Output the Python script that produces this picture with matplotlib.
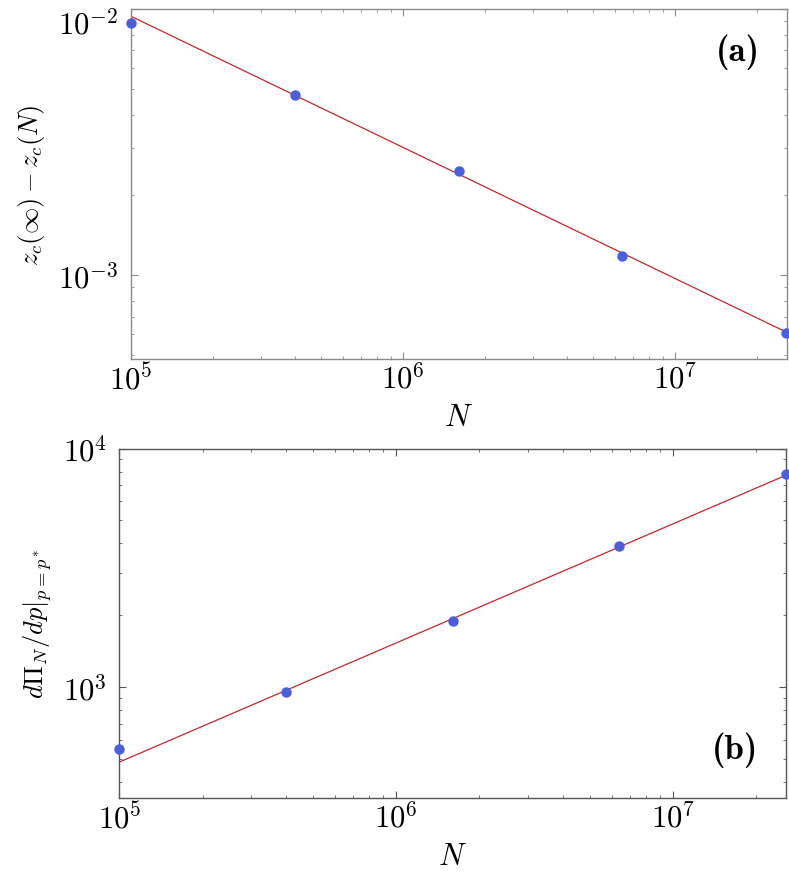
import matplotlib
matplotlib.use("Agg")
import math
import matplotlib.pyplot as plt
from matplotlib.ticker import LogLocator, NullFormatter, FuncFormatter

plt.rcParams["mathtext.fontset"] = "cm"
plt.rcParams["font.family"] = "serif"
plt.rcParams["font.serif"] = ["DejaVu Serif"]

# system sizes (both panels)
N_vals = [1e5, 4e5, 1.6e6, 6.4e6, 2.56e7]

# (a) z_c(inf) - z_c(N)
dz_vals = [8.86e-3, 4.76e-3, 2.47e-3, 1.18e-3, 6.05e-4]
fit_a_N = [1e5, 2.58e7]
fit_a_y = [9.39e-3, 6.1e-4]

# (b) dPi_N/dp at p = p*
dpi_vals = [552, 953, 1900, 3900, 7830]
fit_b_N = [1e5, 2.56e7]
fit_b_y = [485, 7730]

DOT = "#4c5fd8"
LINE = "#c0282d"
FS = 22
FS_Y = 19


def pow10(v, pos):
    return r"$10^{%d}$" % round(math.log10(v))


fig = plt.figure(figsize=(7.89, 8.78), dpi=100)
ax_a = fig.add_axes([0.166, 0.590, 0.8315, 0.3986])
ax_b = fig.add_axes([0.1512, 0.090, 0.845, 0.398])


def style(ax, frame):
    ax.set_xscale("log")
    ax.set_yscale("log")
    for sp in ax.spines.values():
        sp.set_color(frame)
        sp.set_linewidth(1.0)
    ax.tick_params(which="both", direction="in", top=True, right=True,
                   colors=frame, labelcolor="black", labelsize=FS)
    ax.tick_params(which="major", length=5, width=0.8)
    ax.tick_params(axis="x", which="major", pad=3)
    ax.tick_params(axis="y", which="major", pad=9)
    ax.tick_params(which="minor", length=2.5, width=0.6)
    ax.xaxis.set_major_locator(LogLocator(base=10, numticks=10))
    ax.xaxis.set_minor_locator(LogLocator(base=10, subs=range(2, 10), numticks=20))
    ax.yaxis.set_minor_locator(LogLocator(base=10, subs=range(2, 10), numticks=20))
    ax.xaxis.set_major_formatter(FuncFormatter(pow10))
    ax.yaxis.set_major_formatter(FuncFormatter(pow10))
    ax.xaxis.set_minor_formatter(NullFormatter())
    ax.yaxis.set_minor_formatter(NullFormatter())
    ax.set_xlabel(r"$N$", fontsize=FS, labelpad=4)


style(ax_a, "#8a8a8a")
ax_a.plot(fit_a_N, fit_a_y, color=LINE, lw=0.9, zorder=2)
ax_a.plot(N_vals, dz_vals, "o", color=DOT, ms=6.5, clip_on=False, zorder=3)
ax_a.set_xlim(1e5, 2.58e7)
ax_a.set_ylim(4.85e-4, 1e-2)
# top tick label sits a bit lower than its tick, as in the original
ax_a.yaxis.set_major_formatter(
    FuncFormatter(lambda v, p: "" if round(math.log10(v)) == -2 else pow10(v, p)))
ax_a.annotate(r"$10^{-2}$", xy=(0, 1e-2), xycoords=("axes fraction", "data"),
              xytext=(-9.5, -11), textcoords="offset points",
              ha="right", va="center", fontsize=FS)
ax_a.set_ylabel(r"$z_c(\infty)-z_c(N)$", fontsize=FS_Y, labelpad=8)
ax_a.text(0.925, 0.88, "(a)", family="cmb10", transform=ax_a.transAxes,
          fontsize=25, ha="center", va="center")

style(ax_b, "#555555")
ax_b.plot(fit_b_N, fit_b_y, color=LINE, lw=0.9, zorder=2)
ax_b.plot(N_vals, dpi_vals, "o", color=DOT, ms=6.5, clip_on=False, zorder=3)
ax_b.set_xlim(1e5, 2.56e7)
ax_b.set_ylim(343, 1e4)
ax_b.set_ylabel(r"$d\Pi_N/dp|_{p=p^*}$", fontsize=FS_Y, labelpad=6)
ax_b.text(0.923, 0.14, "(b)", family="cmb10", transform=ax_b.transAxes,
          fontsize=25, ha="center", va="center")

fig.savefig("out.png", dpi=100)
